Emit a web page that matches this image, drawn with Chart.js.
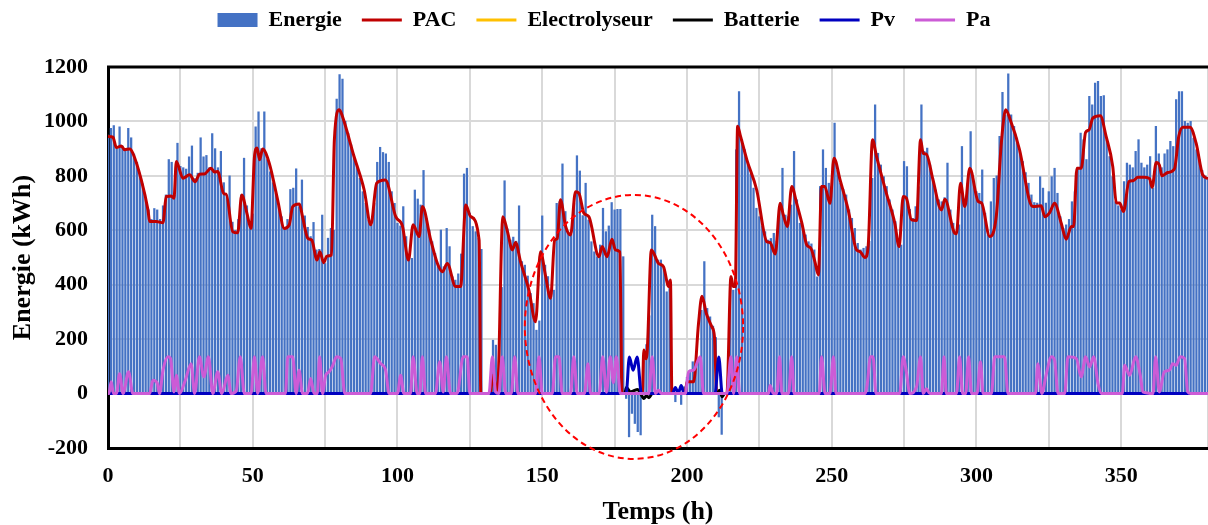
<!DOCTYPE html>
<html>
<head>
<meta charset="utf-8">
<script src="https://cdn.jsdelivr.net/npm/chart.js@4.4.1/dist/chart.umd.min.js"></script>
<style>
  html, body { margin: 0; padding: 0; background: #fff; }
  #wrap { width: 1208px; height: 525px; }
</style>
</head>
<body>
<div id="wrap"><canvas id="chart" width="1208" height="525"></canvas></div>
<script>
// Energie (barres), une valeur par heure, h0 -> h380
const energie = [
  950, 975, 985, 900, 980, 910, 900, 975, 940, 880,
  850, 810, 770, 715, 675, 640, 680, 675, 640, 690,
  730, 860, 850, 730, 920, 835, 830, 825, 870, 910,
  790, 810, 940, 870, 875, 830, 955, 900, 830, 890,
  775, 730, 800, 630, 600, 640, 730, 865, 690, 620,
  660, 980, 1035, 900, 1035, 860, 815, 775, 735, 690,
  650, 610, 640, 750, 755, 826, 687, 785, 653, 611,
  577, 629, 528, 530, 656, 478, 571, 607, 600, 1082,
  1172, 1156, 1000, 955, 914, 865, 840, 791, 742, 699,
  638, 620, 700, 850, 905, 886, 881, 850, 742, 699,
  626, 616, 687, 577, 509, 497, 748, 715, 693, 820,
  644, 601, 558, 515, 472, 601, 466, 607, 540, 429,
  417, 440, 513, 807, 828, 663, 614, 595, 570, 530,
  0, 0, 0, 196, 178, 10, 390, 782, 605, 564,
  575, 560, 690, 485, 472, 432, 368, 331, 233, 267,
  653, 472, 430, 350, 380, 699, 705, 844, 669, 591,
  585, 699, 874, 818, 654, 773, 638, 558, 521, 503,
  546, 681, 595, 616, 702, 675, 677, 677, 503, -18,
  -159, -73, -110, -140, -152, 120, 180, 286, 656, 614,
  491, 491, 460, 374, 417, 0, -30, 15, -40, 25,
  60, 86, 117, 120, 125, 306, 485, 313, 282, 248,
  206, -86, -150, 0, 15, 405, 380, 896, 1110, 933,
  896, 849, 807, 755, 681, 650, 616, 595, 564, 570,
  589, 560, 675, 828, 656, 650, 693, 890, 712, 626,
  614, 583, 558, 550, 528, 429, 761, 896, 828, 773,
  761, 994, 820, 773, 750, 730, 675, 644, 607, 552,
  528, 534, 540, 560, 791, 1061, 883, 840, 797, 761,
  712, 675, 632, 560, 546, 853, 834, 677, 644, 687,
  760, 1061, 890, 902, 840, 791, 748, 712, 705, 720,
  847, 675, 626, 583, 620, 908, 687, 773, 963, 779,
  742, 736, 822, 663, 583, 705, 791, 800, 945, 1107,
  1024, 1175, 1024, 982, 939, 890, 853, 812, 773, 730,
  702, 700, 797, 755, 700, 742, 797, 828, 736, 650,
  607, 620, 640, 705, 742, 828, 957, 933, 860, 1092,
  1061, 1141, 1147, 1092, 1095, 933, 871, 797, 705, 690,
  675, 779, 847, 840, 830, 890, 933, 847, 830, 840,
  871, 755, 982, 881, 830, 881, 896, 927, 908, 1080,
  1110, 1110, 1000, 994, 1000, 939, 896, 860, 820, 800,
  795
];
const heures = energie.map((v, i) => i);

// PAC (ligne rouge)
const pacHeures = [
  0, 1.7, 2.9, 4.6, 5.7, 7.5, 8.6, 11.5, 13.8, 14.4, 16.7, 19, 20.1, 21.8, 22.8, 23.6, 25.9, 28.2, 30.1, 31.6,
  33.3, 35.6, 36.8, 37.9, 40, 40.8, 43.1, 44.8, 46.2, 48, 49.4, 50.6, 51.5, 52.4, 53.4, 55.7, 58.6, 60.9, 62.6, 63.8,
  66.1, 67.2, 69, 70.4, 72.2, 73.2, 74.5, 75.6, 77.2, 78.2, 79.9, 81, 85, 88.5, 90.8, 92.8, 95.8, 99.4, 101.7, 103.8,
  105.4, 107.5, 108.6, 111.5, 113.8, 115.5, 117.2, 120.1, 121.8, 123.6, 125.3, 128.2, 128.8, 132, 133, 134.5, 136.4, 138, 139.7, 140.8,
  142.5, 145.4, 147.7, 149.4, 151.2, 152.9, 154.3, 155.2, 156.3, 158.1, 159.8, 161.5, 162.7, 164.4, 166.1, 169.6, 170.7, 172.4, 174.1, 175.3,
  176.8, 177.6, 184.6, 185.1, 185.8, 186.3, 187.7, 190.2, 191.9, 193.7, 194.3, 194.8, 199.4, 200, 202.3, 204, 205.2, 206.7, 208.6, 209.5,
  210.3, 213.8, 215.2, 216, 216.7, 217.5, 218.4, 220.7, 224.1, 227.6, 228.7, 230.5, 232.2, 233.3, 234.7, 236.2, 237.9, 239.7, 241.4, 242.8,
  244.2, 245.4, 246.5, 247.6, 249.4, 250.8, 252.9, 255.7, 258.6, 259.8, 261.5, 262.6, 264.1, 265.5, 268.9, 271.8, 273.3, 274.7, 275.8, 277.6,
  279.3, 280.7, 281.6, 282.7, 285, 287.9, 289.1, 292.5, 293.1, 294.5, 296, 297.7, 300.6, 301.8, 304.6, 306.9, 308.6, 310.1, 311.5, 314.9,
  318.4, 319.5, 322.4, 323.6, 325.3, 327, 329.3, 331, 332.8, 333.6, 334.7, 336.2, 337.7, 338.9, 340.2, 342.8, 344.8, 347.1, 348.3, 349.5,
  350.8, 352.7, 354.1, 355.8, 358.1, 359.8, 360.7, 362.1, 363.2, 364.1, 366.1, 368.4, 369.9, 371.3, 373.8, 375.9, 378.2, 380
];
const pacValeurs = [
  945, 942, 904, 910, 896, 899, 883, 785, 675, 632, 632, 628, 724, 726, 718, 853, 791, 804, 778, 806,
  807, 828, 814, 816, 734, 733, 595, 591, 730, 662, 607, 871, 902, 859, 899, 847, 712, 607, 620, 687,
  697, 650, 571, 564, 491, 521, 481, 505, 509, 932, 1043, 1018, 871, 748, 620, 773, 785, 650, 616, 491,
  620, 577, 687, 564, 478, 448, 478, 393, 393, 693, 650, 564, 0, 0, 67, 0, 650, 595, 528, 555,
  485, 380, 264, 521, 430, 350, 564, 570, 712, 614, 583, 742, 736, 663, 650, 503, 540, 503, 567, 528,
  521, 0, 0, 160, 128, 160, 528, 478, 466, 393, 417, 0, 0, 43, 43, 258, 358, 294, 245, 209,
  0, 0, 430, 393, 393, 982, 950, 859, 748, 558, 555, 513, 699, 656, 614, 761, 699, 626, 546, 534,
  485, 436, 761, 761, 699, 865, 785, 675, 528, 522, 500, 540, 933, 871, 736, 626, 540, 724, 718, 638,
  636, 933, 883, 880, 785, 675, 714, 589, 587, 773, 687, 828, 706, 700, 577, 656, 920, 1043, 1012, 896,
  706, 687, 690, 650, 665, 699, 626, 567, 614, 614, 828, 828, 960, 969, 1012, 1021, 945, 834, 702, 700,
  669, 779, 782, 795, 795, 790, 758, 849, 840, 800, 812, 825, 945, 979, 979, 920, 803, 790
];

// Pa (ligne violette)
const paHeures = [
  0, 0.3, 1.1, 1.9, 2.9, 4, 5.2, 7.1, 8.6, 14.4, 15.5, 17, 17.8, 19, 20.7, 21.6, 22.8, 23.6, 24.7, 26.7,
  28.7, 29.9, 31.6, 33.1, 34.7, 36.2, 37.9, 39.3, 41.4, 42.5, 44.3, 45.7, 47.1, 49.4, 50.6, 51.7, 53.4, 54.6, 61.3, 62.1,
  63.8, 65, 66, 67.2, 68.9, 70, 71.2, 72.3, 73.1, 74.1, 75.2, 76.4, 77.5, 79, 80.4, 81.8, 90.7, 92.1, 94.2, 95.9,
  97.1, 100, 101.1, 102.2, 104.5, 105.4, 106.8, 107.7, 108.6, 109.7, 113.1, 114.6, 115.8, 116.9, 118.3, 120.6, 122.7, 124.1, 125, 131.6,
  132.8, 133.9, 135, 136.2, 137.4, 139.3, 140.5, 141.6, 147.7, 148.9, 150, 153.5, 154.6, 155.8, 156.9, 159.8, 160.9, 162.1, 164.6, 165.8,
  166.7, 169.7, 170.9, 172.2, 173.5, 174.6, 175.6, 177, 186.8, 188, 189.1, 190.2, 191.2, 199.4, 200.6, 202.3, 204.6, 205.7, 213.8, 215.2,
  216.1, 217.2, 218.2, 228.2, 228.7, 229.9, 231, 232, 232.8, 235.1, 236.2, 237, 245.7, 246.5, 247.7, 249.4, 250.6, 251.5, 261.5, 262.3,
  263.4, 264.3, 265.3, 273.5, 274.7, 275.8, 277, 279.3, 280.7, 281.6, 282.7, 283.9, 287.9, 288.8, 289.6, 293.1, 294.2, 295.2, 296.3, 297.3,
  298.3, 300.2, 301.4, 302.3, 305.2, 306.3, 309.7, 310.9, 320.4, 321.2, 322.6, 324.1, 325.9, 327, 328.2, 330.5, 331.6, 334.5, 336.2, 337.7,
  339.1, 340.5, 342, 343.1, 350.4, 351.2, 352.9, 355, 356.6, 357.5, 361, 361.9, 363.2, 364.9, 366.7, 367.8, 369, 370.4, 371.9, 373,
  374.1, 380
];
const paValeurs = [
  0, 0, 43, 0, 0, 73, 0, 80, 0, 0, 49, 39, 0, 86, 135, 129, 6, 67, 0, 49,
  110, 0, 135, 61, 135, 0, 80, 0, 67, 0, 10, 135, 0, 0, 135, 0, 135, 0, 0, 135,
  135, 0, 86, 0, 0, 55, 0, 0, 135, 0, 67, 80, 100, 135, 129, 0, 0, 135, 110, 86,
  0, 0, 67, 0, 0, 135, 0, 0, 135, 0, 0, 117, 6, 135, 0, 0, 135, 135, 0, 0,
  135, 6, 0, 135, 0, 0, 135, 0, 0, 135, 0, 0, 135, 135, 0, 0, 135, 0, 0, 110,
  0, 0, 135, 5, 135, 40, 135, 0, 0, 135, 0, 12, 0, 0, 80, 86, 135, 0, 0, 135,
  0, 135, 0, 0, 30, 0, 0, 135, 0, 0, 135, 0, 0, 135, 0, 0, 135, 0, 0, 37,
  135, 135, 0, 0, 135, 80, 0, 25, 135, 0, 18, 0, 0, 135, 0, 0, 135, 0, 0, 135,
  0, 0, 117, 0, 0, 135, 135, 0, 0, 110, 0, 70, 135, 123, 0, 0, 135, 129, 61, 135,
  98, 135, 37, 0, 0, 104, 67, 135, 67, 6, 0, 135, 6, 80, 86, 110, 104, 135, 129, 6,
  0, 0
];

// Pv (ligne bleue)
const pvHeures = [0, 179, 180.1, 181.4, 182.8, 184.3, 195, 196, 197, 198, 199, 209.7, 211, 212.2, 380];
const pvValeurs = [0, 0, 134, 86, 134, 0, 0, 22, 0, 30, 0, 0, 134, 0, 0];

// Batterie (ligne noire)
const batHeures = [0, 178.5, 179.1, 180.5, 181.5, 183, 184, 185.1, 186, 186.9, 188, 210.5, 211.3, 212.2, 213, 380];
const batValeurs = [0, 0, 22, 6, 10, 15, 0, -18, -8, -15, 0, 0, 12, -12, 0, 0];

// Electrolyseur (ligne jaune, nulle)
const elecHeures = [0, 380];
const elecValeurs = [0, 0];

// zone entourée (pointillés rouges)
const cercleCentre = [181.7, 245];
const cercleRayon = [37.7, 485];

const police = "'Liberation Serif', 'Times New Roman', serif";

function points(xs, ys) {
  return xs.map((x, i) => ({ x: x, y: ys[i] }));
}

// cadre haut + ellipse en pointillés
const annotations = {
  id: 'annotations',
  afterDatasetsDraw(chart) {
    const { ctx, chartArea, scales: { x, y } } = chart;
    ctx.save();
    ctx.strokeStyle = '#000';
    ctx.lineWidth = 3;
    ctx.beginPath();
    ctx.moveTo(chartArea.left - 1, chartArea.top);
    ctx.lineTo(chartArea.right, chartArea.top);
    ctx.stroke();

    const cx = x.getPixelForValue(cercleCentre[0]);
    const cy = y.getPixelForValue(cercleCentre[1]);
    const rx = Math.abs(x.getPixelForValue(cercleCentre[0] + cercleRayon[0]) - cx);
    const ry = Math.abs(y.getPixelForValue(cercleCentre[1] + cercleRayon[1]) - cy);
    ctx.setLineDash([6, 4]);
    ctx.strokeStyle = '#FF0000';
    ctx.lineWidth = 2;
    ctx.beginPath();
    ctx.ellipse(cx, cy, rx, ry, 0, 0, Math.PI * 2);
    ctx.stroke();
    ctx.restore();
  }
};

// marge sous la légende
const legendMargin = {
  id: 'legendMargin',
  beforeInit(chart) {
    const fit = chart.legend.fit;
    chart.legend.fit = function () {
      fit.bind(chart.legend)();
      this.height += 26;
    };
  }
};

function ligne(label, xs, ys, color, order) {
  return {
    type: 'line',
    label: label,
    data: points(xs, ys),
    borderColor: color,
    backgroundColor: color,
    borderWidth: 3,
    pointRadius: 0,
    pointStyle: 'line',
    cubicInterpolationMode: 'monotone',
    fill: false,
    order: order
  };
}

const ctx = document.getElementById('chart').getContext('2d');
new Chart(ctx, {
  type: 'bar',
  data: {
    datasets: [
      {
        type: 'bar',
        label: 'Energie',
        data: points(heures, energie),
        backgroundColor: '#4472C4',
        borderWidth: 0,
        barThickness: 1.6,
        pointStyle: 'rect',
        order: 6
      },
      ligne('PAC', pacHeures, pacValeurs, '#C00000', 5),
      ligne('Electrolyseur', elecHeures, elecValeurs, '#FFC000', 4),
      ligne('Batterie', batHeures, batValeurs, '#000000', 3),
      ligne('Pv', pvHeures, pvValeurs, '#0000C0', 2),
      ligne('Pa', paHeures, paValeurs, '#CC5BD6', 1)
    ]
  },
  options: {
    responsive: false,
    animation: false,
    layout: { padding: { left: 0, right: 0, top: -11, bottom: 0 } },
    plugins: {
      tooltip: { enabled: false },
      legend: {
        position: 'top',
        labels: {
          usePointStyle: true,
          pointStyleWidth: 40,
          boxHeight: 14,
          padding: 20,
          color: '#000',
          font: { family: police, size: 22, weight: 'bold' },
          sort: (a, b) => a.datasetIndex - b.datasetIndex
        }
      }
    },
    scales: {
      x: {
        type: 'linear',
        min: 0,
        max: 380,
        offset: false,
        afterFit: s => {
          s.height = 77;
          s.paddingLeft = 0;
          s.paddingRight = 0;
        },
        ticks: {
          stepSize: 25,
          autoSkip: false,
          maxRotation: 0,
          padding: 15,
          color: '#000',
          font: { family: police, size: 22, weight: 'bold' },
          callback: v => (v % 50 === 0 ? String(v) : '')
        },
        grid: { offset: false, color: '#D9D9D9', lineWidth: 2, drawTicks: false },
        border: { color: '#000', width: 3 },
        title: {
          display: true,
          text: 'Temps (h)',
          color: '#000',
          padding: { top: 0, bottom: 0 },
          font: { family: police, size: 26, weight: 'bold', lineHeight: 1 }
        }
      },
      y: {
        min: -200,
        max: 1200,
        afterFit: s => { s.width = 108; },
        ticks: {
          stepSize: 200,
          padding: 20,
          color: '#000',
          font: { family: police, size: 22, weight: 'bold' },
          callback: v => String(v)
        },
        grid: { color: '#D9D9D9', lineWidth: 2, drawTicks: false },
        border: { color: '#000', width: 3 },
        title: {
          display: true,
          text: 'Energie (kWh)',
          color: '#000',
          padding: { top: 10, bottom: 0 },
          font: { family: police, size: 26, weight: 'bold', lineHeight: 1 }
        }
      }
    }
  },
  plugins: [annotations, legendMargin]
});
</script>
</body>
</html>
